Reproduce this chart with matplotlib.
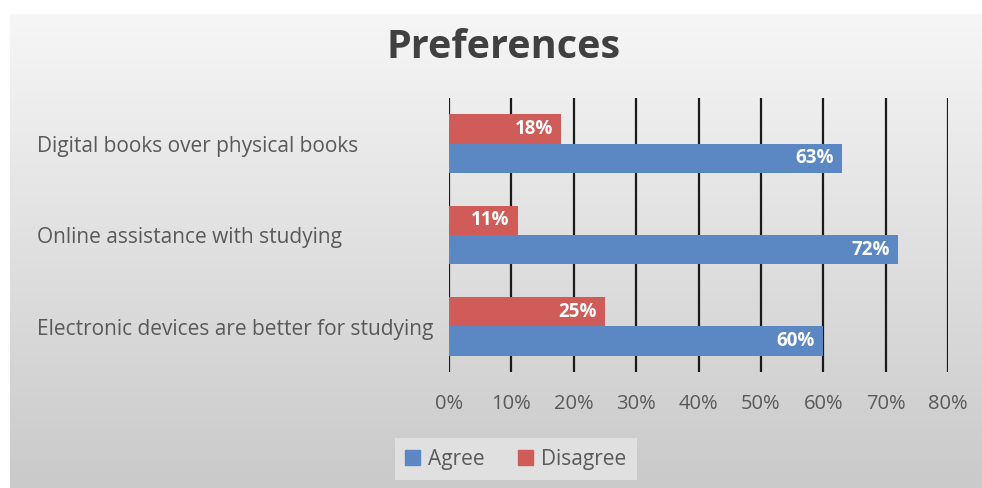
import numpy as np
import matplotlib
matplotlib.use('Agg')
import matplotlib.pyplot as plt
import matplotlib.transforms as mtransforms
from matplotlib.patches import Patch

# data
categories = ['Electronic devices are better for studying',
              'Online assistance with studying',
              'Digital books over physical books']
agree = [60, 72, 63]
disagree = [25, 11, 18]
ticks = [0, 10, 20, 30, 40, 50, 60, 70, 80]

blue = '#5b87c3'
red = '#cf5c59'
grey_txt = '#595959'
font = 'Open Sans'

W, H = 982, 488
fig = plt.figure(figsize=(W / 100, H / 100), dpi=100)
fig.patch.set_facecolor('white')

# gradient background
bg = fig.add_axes([10 / W, 0, 972 / W, 1 - 14 / H])
img = np.linspace(0.965, 0.79, 256).reshape(-1, 1)
img = np.repeat(img, 256, axis=1)
bg.imshow(np.dstack([img, img, img]), aspect='auto', extent=[0, 1, 0, 1], origin='upper')
bg.axis('off')
bg.set_zorder(-10)

ax = fig.add_axes([449 / W, 1 - 372 / H, (948 - 449) / W, (372 - 98) / H])
ax.set_facecolor('none')

y = np.arange(len(categories))
h = 0.32
ax.barh(y - h / 2, agree, height=h, color=blue, zorder=3)
ax.barh(y + h / 2, disagree, height=h, color=red, zorder=3)

for i in range(len(categories)):
    ax.text(agree[i] - 1.3, y[i] - h / 2, f'{agree[i]}%', ha='right', va='center',
            color='white', fontsize=13.5, fontweight='bold', family=font, zorder=4)
    ax.text(disagree[i] - 1.3, y[i] + h / 2, f'{disagree[i]}%', ha='right', va='center',
            color='white', fontsize=13.5, fontweight='bold', family=font, zorder=4)

ax.set_xlim(0, 80)
ax.set_ylim(-0.5, 2.5)
ax.set_xticks(ticks)
ax.set_xticklabels([f'{t}%' for t in ticks], family=font, fontsize=14.5, color=grey_txt)
ax.tick_params(axis='x', length=0, pad=16)
ax.set_yticks([])
for s in ax.spines.values():
    s.set_visible(False)
for t in ticks:
    ax.axvline(t, color='#1a1a1a', linewidth=1.6, zorder=2)

trans = mtransforms.blended_transform_factory(fig.transFigure, ax.transData)
for i, c in enumerate(categories):
    fig.text(37 / W, y[i] - 0.03, c, transform=trans, ha='left', va='center',
             family=font, fontsize=15, color=grey_txt)

fig.text(504 / W, 1 - 48 / H, 'Preferences', ha='center', va='center',
         family=font, fontsize=28.5, fontweight='bold', color='#404040')

handles = [Patch(color=blue, label='Agree'), Patch(color=red, label='Disagree')]
leg = fig.legend(handles=handles, loc='center', bbox_to_anchor=(516 / W, 1 - 459 / H),
                 ncol=2, frameon=True, handlelength=0.7, handleheight=0.7,
                 handletextpad=0.4, columnspacing=1.6, prop={'family': font, 'size': 15})
leg.get_frame().set_facecolor('#e0e0e0')
leg.get_frame().set_edgecolor('none')
leg.get_frame().set_alpha(1)
leg.get_frame().set_boxstyle('square', pad=0.1)
for t in leg.get_texts():
    t.set_color(grey_txt)

fig.savefig('out.png', dpi=100)
